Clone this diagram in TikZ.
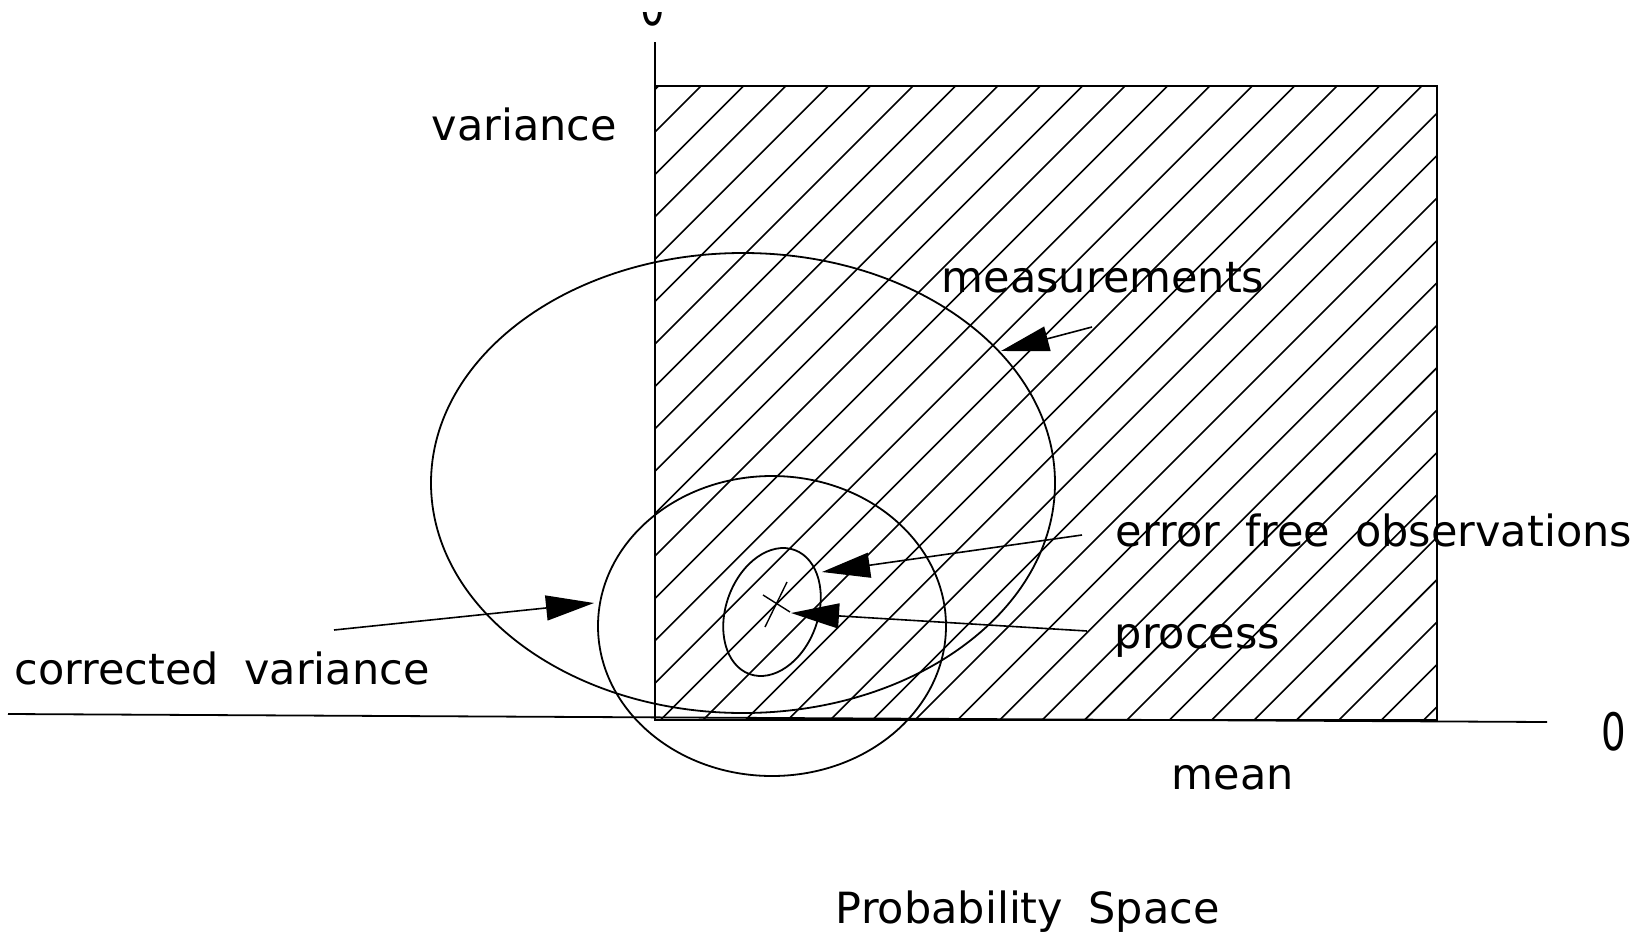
\documentclass[tikz,border=0pt]{standalone}
\usepackage{fontspec}
\setmainfont{DejaVu Sans}[WordSpace=1.85]
\usetikzlibrary{arrows.meta}
\begin{document}
\begin{tikzpicture}[x=1pt,y=-1pt,
  line width=1.8pt,
  lbl/.style={font=\fontsize{43}{50}\selectfont, inner sep=0pt, anchor=base west},
  arr/.style={-{Triangle[length=48pt,width=25pt]}, line width=1.6pt},
  hatch/.style={line width=1.6pt},
  curve/.style={line width=1.8pt},
  axis/.style={line width=1.8pt}]
\useasboundingbox (0,0) rectangle (1639,937);

% hatching
\begin{scope}
  \clip (655,86) rectangle (1437,720);
  \foreach \k in {-16,...,17} {
    \pgfmathsetmacro\s{1423+42.4*\k}
    \draw[hatch] ({\s-720},720) -- ({\s-86},86);
  }
\end{scope}
\draw[axis] (655,86) rectangle (1437,720);

% axes
\coordinate (vtop) at (655,42);
\coordinate (vbot) at (655,720);
\coordinate (hleft) at (8,714);
\coordinate (hright) at (1547,722);
\draw[axis] (vtop) -- (vbot);
\draw[axis] (hleft) -- (hright);

% ellipses
\draw[curve] (743,483) ellipse [x radius=312, y radius=230];
\draw[curve] (772,626) ellipse [x radius=174, y radius=150];
\draw[curve, rotate around={-20:(772,612)}] (772,612) ellipse [x radius=46, y radius=66];
% process mark
\draw[line width=1.4pt] (763,595) -- (790,612);
\draw[line width=1.4pt] (787,582) -- (765,627);

% labels
\begin{scope}
  \clip (620,12) rectangle (690,40);
  \node[lbl, anchor=base] (topzero) at (653,25) {\scalebox{0.9}[1.2]{0}};
\end{scope}
\node[lbl] (rzero) at (1601,750) {\scalebox{0.9}[1.2]{0}};
\node[lbl] (variance) at (431,140) {variance};
\node[lbl] (meas) at (941,292) {measurements};
\node[lbl] (efo) at (1115,546) {error free observations};
\node[lbl] (proc) at (1114,648) {process};
\node[lbl] (corr) at (14,684) {corrected variance};
\node[lbl] (mean) at (1171,789) {mean};
\node[lbl] (prob) at (835,923) {Probability Space};

% arrows
\coordinate (measTail) at (1092,327);
\coordinate (measTip) at (1001,351);
\coordinate (efoTail) at (1082,535);
\coordinate (efoTip) at (822,572);
\coordinate (procTail) at (1087,631);
\coordinate (procTip) at (791,613);
\coordinate (corrTail) at (334,630);
\coordinate (corrTip) at (594,603);
\draw[arr] (measTail) -- (measTip);
\draw[arr] (efoTail) -- (efoTip);
\draw[arr] (procTail) -- (procTip);
\draw[arr] (corrTail) -- (corrTip);
\end{tikzpicture}
\end{document}
